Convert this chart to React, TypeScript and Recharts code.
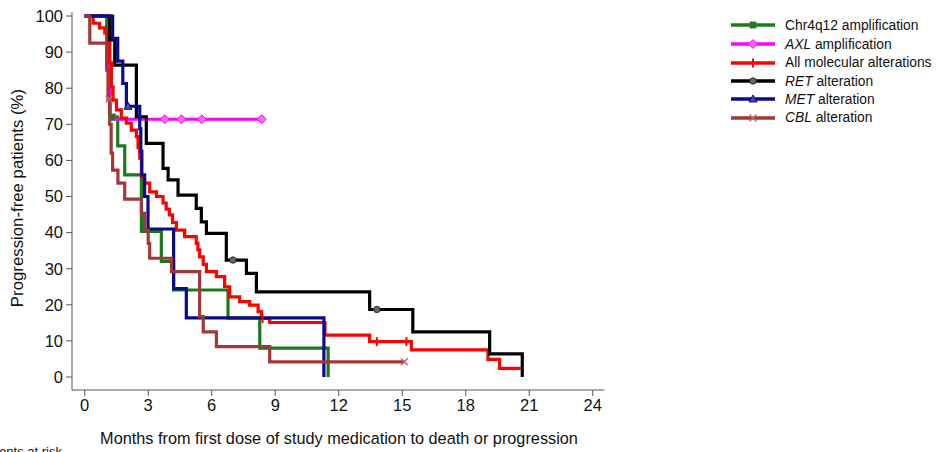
import React from 'react';
import { ComposedChart, Line, XAxis, YAxis } from 'recharts';

const FONT = '"Liberation Sans", Arial, Helvetica, sans-serif';

const xTicks = [0, 3, 6, 9, 12, 15, 18, 21, 24];
const yTicks = [0, 10, 20, 30, 40, 50, 60, 70, 80, 90, 100];

// Chr4q12 amplification
const chrTimes = [0, 1.04, 1.2, 1.56, 1.89, 2.68, 3.62, 4.2, 6.77, 8.27, 11.5];
const chrValues = [100, 86, 72, 64, 56, 40.3, 32, 24.1, 16.3, 8, 0];
const chrCensor = [1.32];

// AXL amplification
const axlTimes = [0, 1.18, 8.36];
const axlValues = [100, 71.4, 71.4];
const axlCensor = [3.78, 4.57, 5.53, 8.36];

// All molecular alterations
const allTimes = [0, 0.4, 0.7, 0.95, 1.1, 1.18, 1.26, 1.34, 1.5, 1.73, 1.97, 2.2, 2.44, 2.52, 2.6, 2.68, 2.83, 3.07, 3.39, 3.7, 3.85, 4.0, 4.15, 4.33, 4.72, 5.27, 5.35, 5.43, 5.6, 5.75, 6.22, 6.61, 6.85, 7.32, 7.79, 8.19, 8.35, 8.74, 11.35, 13.46, 15.43, 19.05, 19.6, 20.6];
const allValues = [100, 98, 96.7, 95.3, 92.5, 87, 80.4, 76.7, 74, 71.7, 70.3, 68.4, 66.6, 63.5, 60.6, 55.5, 53.7, 51.3, 50, 48.2, 46.5, 44.9, 42.8, 40.7, 38.9, 37, 35.2, 33.3, 31.2, 29.2, 27.8, 25, 22.2, 20.9, 19.9, 18.1, 16.2, 15.1, 11.6, 9.8, 7.5, 4.9, 2.4, 2.4];
const allCensor = [8.4, 13.8, 15.2];

// RET alteration
const retTimes = [0, 1.18, 1.42, 2.44, 2.91, 3.7, 3.94, 4.41, 5.27, 5.51, 5.75, 6.69, 7.64, 8.11, 13.46, 15.5, 19.13, 20.67];
const retValues = [100, 93.4, 86.4, 72.1, 64.7, 57.8, 54.6, 50.4, 46.7, 43, 39.8, 32.4, 28.7, 23.6, 18.7, 12.5, 6.4, 0];
const retCensor = [7.0, 13.8];

// MET alteration
const metTimes = [0, 1.32, 1.56, 1.8, 1.97, 2.6, 2.65, 2.7, 2.83, 2.99, 4.2, 4.8, 11.3];
const metValues = [100, 93.8, 87.5, 81.3, 75, 68.8, 62.5, 56, 50, 41, 24.5, 16.4, 0];
const metCensor = [2.05];

// CBL alteration
const cblTimes = [0, 0.24, 1.04, 1.1, 1.18, 1.25, 1.32, 1.57, 1.89, 2.68, 2.83, 3.0, 3.07, 4.1, 5.43, 5.6, 6.22, 8.74, 15.1];
const cblValues = [100, 92.5, 85, 77, 70, 62, 57.3, 53.7, 49.3, 45.3, 40.7, 37, 32.9, 29.2, 16.7, 12.5, 8.4, 4.2, 4.2];
const cblCensor = [1.15, 15.1];

type Pt = { t: number; v: number; c?: boolean };

function build(times: number[], values: number[], censor: number[]): Pt[] {
  const pts: Pt[] = times.map((t, i) => ({ t, v: values[i] }));
  censor.forEach((ct) => {
    const same = pts.find((p) => Math.abs(p.t - ct) < 1e-9);
    if (same) {
      same.c = true;
      return;
    }
    let val = values[0];
    times.forEach((t, i) => {
      if (t <= ct) val = values[i];
    });
    pts.push({ t: ct, v: val, c: true });
  });
  pts.sort((a, b) => a.t - b.t);
  return pts;
}

type Kind = 'square' | 'diamond' | 'tick' | 'circle' | 'triangle' | 'cross';

function Marker({ x, y, kind, color }: { x: number; y: number; kind: Kind; color: string }) {
  switch (kind) {
    case 'square':
      return <rect x={x - 3} y={y - 3} width={6} height={6} fill={color} stroke="#4a7a4a" strokeWidth={1} />;
    case 'diamond':
      return <polygon points={`${x},${y - 4.5} ${x + 4.5},${y} ${x},${y + 4.5} ${x - 4.5},${y}`} fill="#ff66ff" stroke={color} strokeWidth={1} />;
    case 'tick':
      return <line x1={x} y1={y - 4.5} x2={x} y2={y + 4.5} stroke={color} strokeWidth={2} />;
    case 'circle':
      return <circle cx={x} cy={y} r={3.2} fill="#666" stroke="#333" strokeWidth={1} />;
    case 'triangle':
      return <polygon points={`${x},${y - 4} ${x + 4},${y + 3} ${x - 4},${y + 3}`} fill="#4646b0" stroke={color} strokeWidth={1} />;
    case 'cross':
      return (
        <g>
          <line x1={x - 3.5} y1={y - 3.5} x2={x + 3.5} y2={y + 3.5} stroke="#c06a6a" strokeWidth={1.5} />
          <line x1={x - 3.5} y1={y + 3.5} x2={x + 3.5} y2={y - 3.5} stroke="#c06a6a" strokeWidth={1.5} />
        </g>
      );
  }
  return null;
}

const series = [
  { name: 'Chr4q12', label: [['', 'Chr4q12 amplification']], color: '#1b7a1b', kind: 'square' as Kind, data: build(chrTimes, chrValues, chrCensor) },
  { name: 'AXL', label: [['AXL', ' amplification']], color: '#ff00ff', kind: 'diamond' as Kind, data: build(axlTimes, axlValues, axlCensor) },
  { name: 'All', label: [['', 'All molecular alterations']], color: '#ff0000', kind: 'tick' as Kind, data: build(allTimes, allValues, allCensor) },
  { name: 'RET', label: [['RET', ' alteration']], color: '#000000', kind: 'circle' as Kind, data: build(retTimes, retValues, retCensor) },
  { name: 'MET', label: [['MET', ' alteration']], color: '#0a0a8c', kind: 'triangle' as Kind, data: build(metTimes, metValues, metCensor) },
  { name: 'CBL', label: [['CBL', ' alteration']], color: '#a33636', kind: 'cross' as Kind, data: build(cblTimes, cblValues, cblCensor) },
];

const legendY = [25, 44, 62.5, 81, 99, 117.5];

export default function App() {
  return (
    <div style={{ position: 'absolute', left: 0, top: 0, width: 937, height: 452, background: '#fff', overflow: 'hidden', fontFamily: FONT }}>
      <ComposedChart width={937} height={452} margin={{ top: 12.4, right: 332.6, bottom: 32, left: 12 }}>
        <XAxis
          dataKey="t"
          type="number"
          domain={[-0.6, 24.55]}
          ticks={xTicks}
          allowDataOverflow
          height={30}
          tickSize={6}
          tickMargin={3}
          stroke="#555"
          tick={{ fill: '#111', fontSize: 16.5, fontFamily: FONT }}
          interval={0}
        />
        <YAxis
          type="number"
          domain={[-3.6, 101]}
          ticks={yTicks}
          allowDataOverflow
          width={60}
          tickSize={6}
          tickMargin={3}
          stroke="#555"
          tick={{ fill: '#111', fontSize: 16.5, fontFamily: FONT }}
          interval={0}
        />
        {series.map((s) => (
          <Line
            key={s.name}
            data={s.data}
            dataKey="v"
            type="stepAfter"
            stroke={s.color}
            strokeWidth={3.2}
            isAnimationActive={false}
            activeDot={false}
            legendType="none"
            dot={(p: any) =>
              p.payload && p.payload.c ? (
                <g key={`${s.name}-d${p.index}`}>
                  <Marker x={p.cx} y={p.cy} kind={s.kind} color={s.color} />
                </g>
              ) : (
                <g key={`${s.name}-d${p.index}`} />
              )
            }
          />
        ))}
      </ComposedChart>

      <div
        style={{
          position: 'absolute',
          left: 18,
          top: 198,
          transform: 'translate(-50%, -50%) rotate(-90deg)',
          whiteSpace: 'nowrap',
          fontSize: 16.8,
          color: '#111',
        }}
      >
        Progression-free patients (%)
      </div>
      <div
        style={{
          position: 'absolute',
          left: 339,
          top: 438,
          transform: 'translate(-50%, -50%)',
          whiteSpace: 'nowrap',
          fontSize: 16.3,
          color: '#111',
        }}
      >
        Months from first dose of study medication to death or progression
      </div>
      <div
        style={{
          position: 'absolute',
          right: 937 - 62,
          top: 444,
          whiteSpace: 'nowrap',
          fontSize: 13,
          color: '#111',
        }}
      >
        Patients at risk
      </div>

      {series.map((s, i) => (
        <div key={s.name} style={{ position: 'absolute', left: 729, top: legendY[i] - 9, height: 18, display: 'flex', alignItems: 'center' }}>
          <svg width={48} height={18} style={{ display: 'block' }}>
            <line x1={2} y1={9} x2={46} y2={9} stroke={s.color} strokeWidth={3.5} />
            <Marker x={24} y={9} kind={s.kind} color={s.color} />
          </svg>
          <span style={{ marginLeft: 8, fontSize: 13.8, color: '#111', whiteSpace: 'nowrap' }}>
            {s.label[0][0] ? <i>{s.label[0][0]}</i> : null}
            {s.label[0][1]}
          </span>
        </div>
      ))}
    </div>
  );
}
